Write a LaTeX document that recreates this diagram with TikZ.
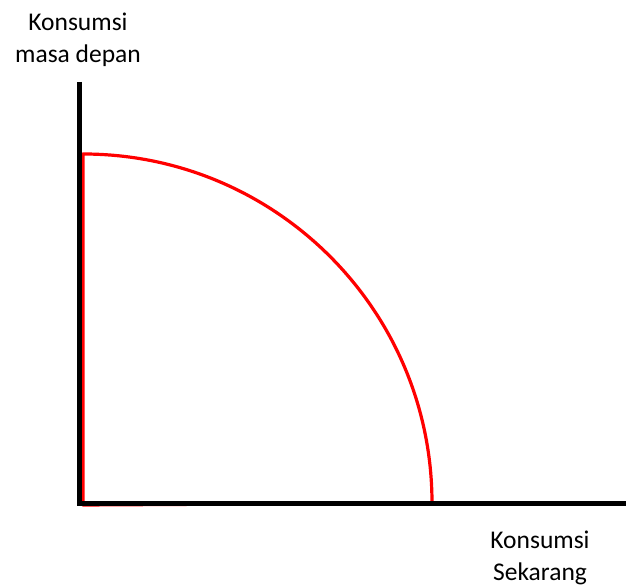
\documentclass[tikz,border=0pt]{standalone}
\usepackage{fontspec}
\setmainfont{Carlito}
\begin{document}
\begin{tikzpicture}[x=1pt,y=1pt,
  axis/.style={line width=5.5pt, line cap=butt, line join=miter, black},
  frontier/.style={line width=3.2pt, red, line join=round},
  lbl/.style={align=center, font=\fontsize{25.5}{32}\selectfont, inner sep=0pt, anchor=base}]
\useasboundingbox (0,0) rectangle (627,588);
\coordinate (Ytop) at (79.5,506);
\coordinate (O) at (79.5,84.7);
\coordinate (Xend) at (626,84.7);
\coordinate (Rbot) at (83,83);
\coordinate (Rtop) at (83,434);
\draw[frontier] (Rbot) -- (Rtop) arc[start angle=90, end angle=0, radius=349pt] -- cycle;
\draw[axis] (Ytop) |- (Xend);
\node[lbl] (ylabel) at (78,525.5) {Konsumsi\\masa depan};
\node[lbl] (xlabel) at (540,7.5) {Konsumsi\\Sekarang};
\end{tikzpicture}
\end{document}
